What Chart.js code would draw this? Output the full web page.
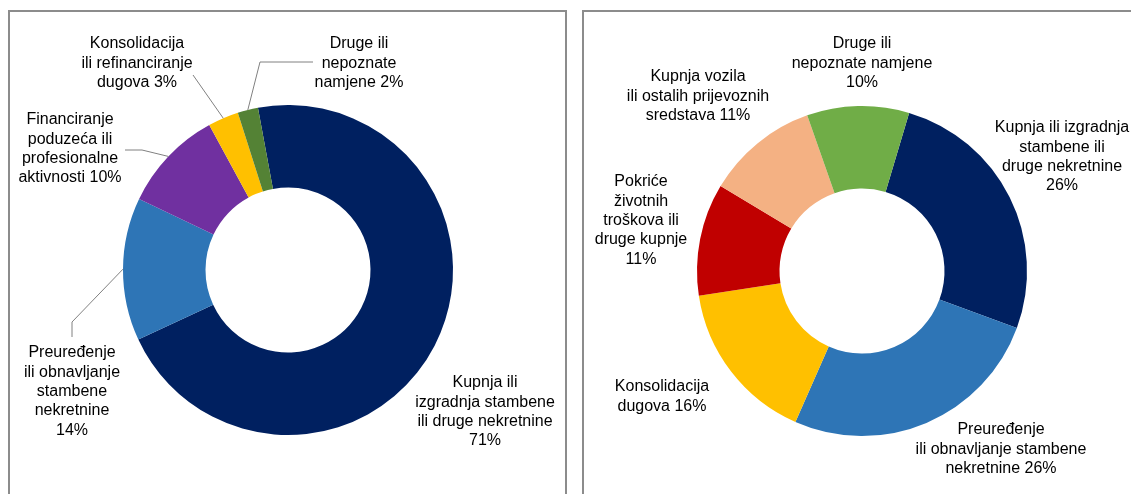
<!DOCTYPE html>
<html>
<head>
<meta charset="utf-8">
<script src="https://cdn.jsdelivr.net/npm/chart.js@4"></script>
<style>
  html, body { margin: 0; padding: 0; background: #fff; overflow: hidden; }
  .frame { position: absolute; top: 10px; height: 600px; border: 2px solid #8c8c8c; }
  #frameLeft { left: 8px; width: 555px; }
  #frameRight { left: 582px; width: 700px; }
  canvas { position: absolute; top: 0; }
  #leftChart { left: 0; }
  #rightChart { left: 575px; }
</style>
</head>
<body>
<div class="frame" id="frameLeft"></div>
<div class="frame" id="frameRight"></div>
<canvas id="leftChart" width="575" height="494"></canvas>
<canvas id="rightChart" width="556" height="494"></canvas>

<script>
// Namjena kredita - lijevi krug
const leftNames = [
    ['Kupnja ili', 'izgradnja stambene', 'ili druge nekretnine', '{v}%'],
    ['Preuređenje', 'ili obnavljanje', 'stambene', 'nekretnine', '{v}%'],
    ['Financiranje', 'poduzeća ili', 'profesionalne', 'aktivnosti {v}%'],
    ['Konsolidacija', 'ili refinanciranje', 'dugova {v}%'],
    ['Druge ili', 'nepoznate', 'namjene {v}%']
];
const leftValues = [71, 14, 10, 3, 2];
const leftColors = ['#002060', '#2e75b6', '#7030a0', '#ffc000', '#548235'];

// Namjena kredita - desni krug
const rightNames = [
    ['Kupnja ili izgradnja', 'stambene ili', 'druge nekretnine', '{v}%'],
    ['Preuređenje', 'ili obnavljanje stambene', 'nekretnine {v}%'],
    ['Konsolidacija', 'dugova {v}%'],
    ['Pokriće', 'životnih', 'troškova ili', 'druge kupnje', '{v}%'],
    ['Kupnja vozila', 'ili ostalih prijevoznih', 'sredstava {v}%'],
    ['Druge ili', 'nepoznate namjene', '{v}%']
];
const rightValues = [26, 26, 16, 11, 11, 10];
const rightColors = ['#002060', '#2e75b6', '#ffc000', '#c00000', '#f4b183', '#70ad47'];

// Raspored natpisa: [dx, dy] prvog retka od središta kruga
const leftLabelPos = [[197, 113], [-216, 83], [-218, -150], [-151, -226], [71, -226]];
const rightLabelPos = [[200, -143], [139, 159], [-200, 116], [-221, -89], [-164, -194], [0, -227]];

// Spojnice (samo lijevo): točke od natpisa prema rubu isječka
const leftLeaders = [
    null,
    [[-216, 67], [-216, 52]],
    [[-163, -120], [-146, -120]],
    [[-95, -195]],
    [[25, -208], [-28, -208]]
];

const LINE_H = 19.3;

function labelLines(names, values) {
    return names.map((lines, i) => lines.map(t => t.replace('{v}', values[i])));
}

const labelPlugin = {
    id: 'sliceLabels',
    afterDatasetsDraw(chart, args, opts) {
        const ctx = chart.ctx;
        const arcs = chart.getDatasetMeta(0).data;
        const cx = arcs[0].x, cy = arcs[0].y;
        ctx.save();

        // spojnice
        ctx.strokeStyle = '#808080';
        ctx.lineWidth = 1;
        (opts.leaders || []).forEach((pts, i) => {
            if (!pts) return;
            const arc = arcs[i];
            const mid = (arc.startAngle + arc.endAngle) / 2;
            ctx.beginPath();
            ctx.moveTo(cx + pts[0][0], cy + pts[0][1]);
            pts.slice(1).forEach(p => ctx.lineTo(cx + p[0], cy + p[1]));
            ctx.lineTo(cx + Math.cos(mid) * arc.outerRadius, cy + Math.sin(mid) * arc.outerRadius);
            ctx.stroke();
        });

        // tekst
        ctx.fillStyle = '#000';
        ctx.font = '16px "Liberation Sans", Arial, sans-serif';
        ctx.textAlign = 'center';
        ctx.textBaseline = 'middle';
        opts.lines.forEach((lines, i) => {
            const p = opts.pos[i];
            lines.forEach((t, k) => ctx.fillText(t, cx + p[0], cy + p[1] + k * LINE_H));
        });
        ctx.restore();
    }
};

function makeDonut(id, values, colors, rotation, padding, pluginOpts) {
    return new Chart(document.getElementById(id), {
        type: 'doughnut',
        data: {
            labels: pluginOpts.lines.map(l => l.join(' ')),
            datasets: [{
                data: values,
                backgroundColor: colors,
                borderWidth: 0
            }]
        },
        options: {
            responsive: false,
            animation: false,
            rotation: rotation,
            cutout: '50%',
            layout: { padding: padding },
            plugins: {
                legend: { display: false },
                tooltip: { enabled: false },
                sliceLabels: pluginOpts
            }
        },
        plugins: [labelPlugin]
    });
}

makeDonut('leftChart', leftValues, leftColors, -10.5,
    { left: 123, right: 122, top: 105, bottom: 59 },
    { lines: labelLines(leftNames, leftValues), pos: leftLabelPos, leaders: leftLeaders });

makeDonut('rightChart', rightValues, rightColors, 16.6,
    { left: 122, right: 104, top: 106, bottom: 58 },
    { lines: labelLines(rightNames, rightValues), pos: rightLabelPos });
</script>
</body>
</html>
